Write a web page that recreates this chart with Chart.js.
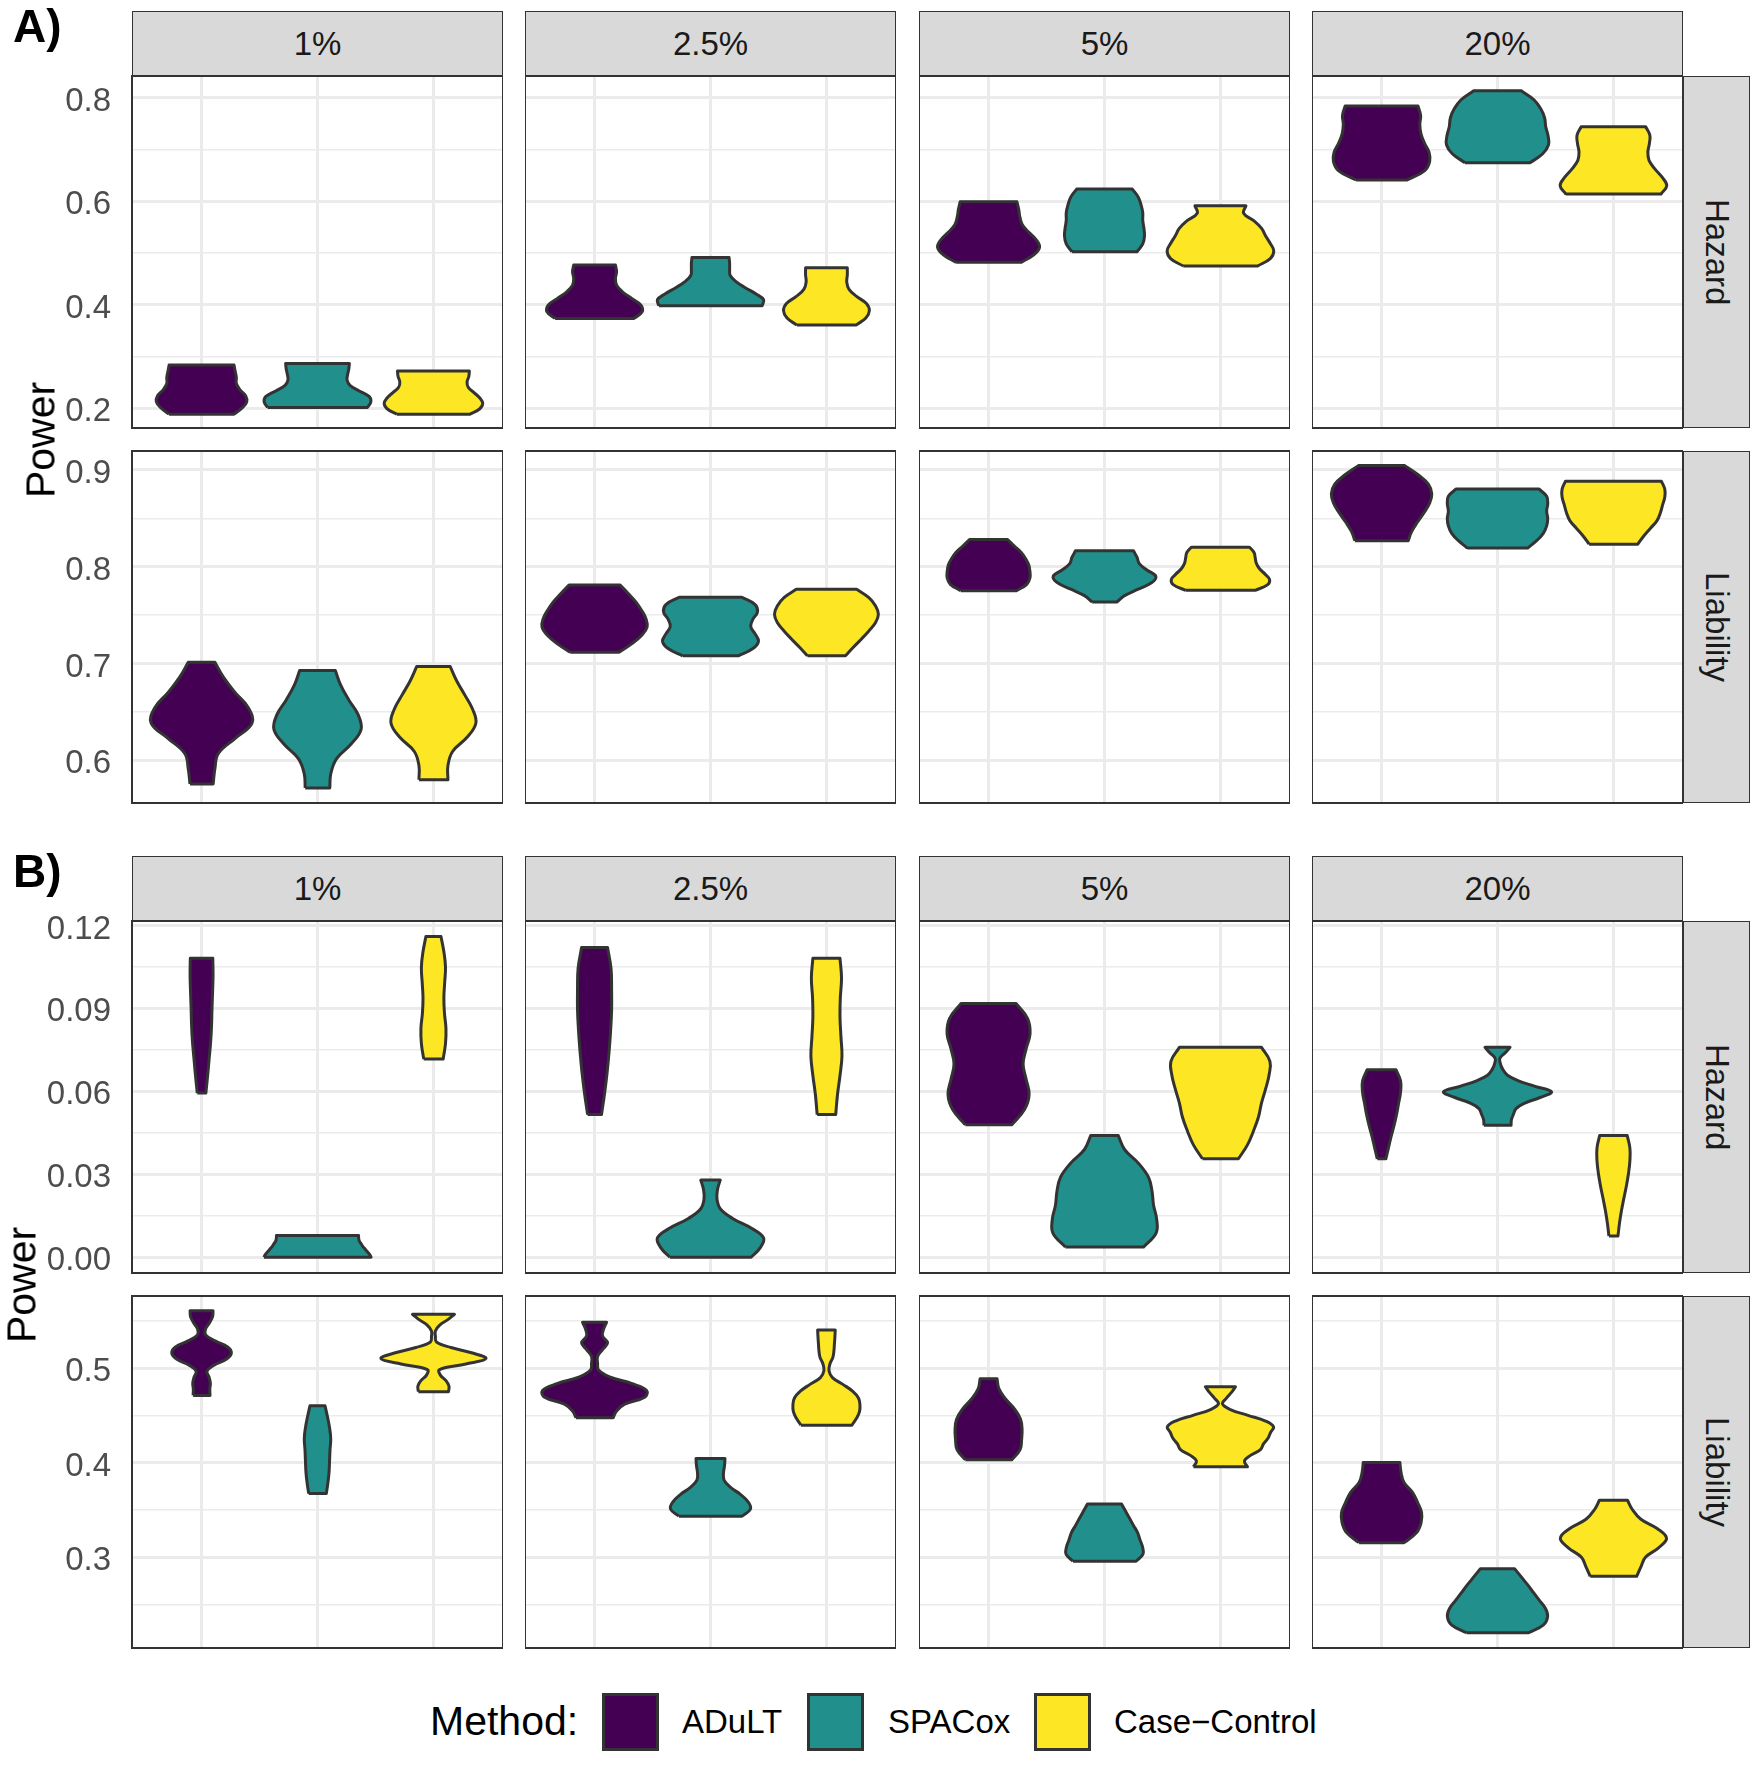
<!DOCTYPE html>
<html>
<head>
<meta charset="utf-8">
<script src="https://cdn.jsdelivr.net/npm/chart.js@4.4.1/dist/chart.umd.min.js"></script>
<style>
  body { margin: 0; background: #fff; font-family: "Liberation Sans", Arial, Helvetica, sans-serif; }
  #fig { position: relative; width: 1750px; height: 1773px; overflow: hidden; background: #fff; }
  .abs { position: absolute; }
  .strip { position: absolute; box-sizing: border-box; background: #d9d9d9; border: 1.4px solid #333; color: #1a1a1a;
           font-size: 33px; display: flex; align-items: center; justify-content: center; }
  .strip.side span { writing-mode: vertical-rl; }
  .tag { position: absolute; font-weight: bold; font-size: 46px; line-height: 46px; color: #000; }
  .ytitle { position: absolute; font-size: 41px; line-height: 41px; color: #000; width: 200px; text-align: center;
            transform: translate(-50%, -50%) rotate(-90deg); }
  .key { position: absolute; box-sizing: border-box; border: 3px solid #333; width: 57px; height: 58px; }
  .ltxt { position: absolute; font-size: 33px; line-height: 33px; color: #000; white-space: nowrap; }
</style>
</head>
<body>
<div id="fig"></div>
<script>
// categories
var methods = ['ADuLT', 'SPACox', 'Case\u2212Control'];
var methodColors = ['#440154', '#21908C', '#FDE725'];
var prevalences = ['1%', '2.5%', '5%', '20%'];
var models = ['Hazard', 'Liability'];

// y axes, one per facet row
var yRangeAHazard = [0.162, 0.842];
var yMajorAHazard = [0.2, 0.4, 0.6, 0.8];
var yLabelAHazard = ['0.2', '0.4', '0.6', '0.8'];
var yMinorAHazard = [0.3, 0.5, 0.7];

var yRangeALiability = [0.556, 0.9196];
var yMajorALiability = [0.6, 0.7, 0.8, 0.9];
var yLabelALiability = ['0.6', '0.7', '0.8', '0.9'];
var yMinorALiability = [0.65, 0.75, 0.85];

var yRangeBHazard = [-0.0057, 0.1216];
var yMajorBHazard = [0, 0.03, 0.06, 0.09, 0.12];
var yLabelBHazard = ['0.00', '0.03', '0.06', '0.09', '0.12'];
var yMinorBHazard = [0.015, 0.045, 0.075, 0.105];

var yRangeBLiability = [0.204, 0.5766];
var yMajorBLiability = [0.3, 0.4, 0.5];
var yLabelBLiability = ['0.3', '0.4', '0.5'];
var yMinorBLiability = [0.25, 0.35, 0.45, 0.55];

// violins: [min power, max power, half widths from bottom to top (evenly spaced)]
// one line per prevalence, methods in order ADuLT, SPACox, Case-Control
var violinsAHazard = [
  [[0.1888, 0.2835, [0.28, 0.35, 0.39, 0.38, 0.33, 0.30, 0.30, 0.29, 0.28]],
   [0.2017, 0.2867, [0.43, 0.46, 0.445, 0.36, 0.28, 0.255, 0.26, 0.27, 0.275]],
   [0.1888, 0.2719, [0.315, 0.40, 0.425, 0.40, 0.35, 0.30, 0.29, 0.305, 0.31]]],
  [[0.3737, 0.4767, [0.34, 0.41, 0.40, 0.32, 0.24, 0.19, 0.18, 0.19, 0.18]],
   [0.398, 0.4916, [0.445, 0.458, 0.39, 0.30, 0.22, 0.17, 0.165, 0.165, 0.16]],
   [0.3608, 0.4715, [0.255, 0.34, 0.37, 0.345, 0.26, 0.195, 0.175, 0.18, 0.18]]],
  [[0.482, 0.599, [0.28, 0.39, 0.44, 0.41, 0.345, 0.29, 0.27, 0.26, 0.245]],
   [0.5024, 0.6236, [0.28, 0.33, 0.345, 0.34, 0.33, 0.33, 0.315, 0.29, 0.24]],
   [0.4748, 0.5913, [0.32, 0.43, 0.46, 0.43, 0.39, 0.355, 0.29, 0.20, 0.22]]],
  [[0.641, 0.784, [0.22, 0.37, 0.415, 0.41, 0.37, 0.34, 0.33, 0.337, 0.314]],
   [0.6744, 0.8135, [0.28, 0.39, 0.44, 0.436, 0.416, 0.406, 0.373, 0.314, 0.205]],
   [0.6139, 0.744, [0.41, 0.46, 0.42, 0.357, 0.307, 0.297, 0.31, 0.314, 0.278]]]
];

var violinsALiability = [
  [[0.5757, 0.7014, [0.10, 0.115, 0.145, 0.29, 0.435, 0.405, 0.29, 0.19, 0.115]],
   [0.5715, 0.6928, [0.106, 0.115, 0.165, 0.29, 0.376, 0.35, 0.27, 0.2, 0.154]],
   [0.58, 0.6969, [0.125, 0.125, 0.165, 0.29, 0.366, 0.337, 0.27, 0.2, 0.145]]],
  [[0.7117, 0.7811, [0.21, 0.32, 0.405, 0.453, 0.443, 0.405, 0.356, 0.29, 0.22]],
   [0.708, 0.7685, [0.24, 0.366, 0.414, 0.385, 0.347, 0.366, 0.405, 0.385, 0.27]],
   [0.708, 0.7767, [0.164, 0.23, 0.3, 0.366, 0.424, 0.448, 0.424, 0.366, 0.26]]],
  [[0.7753, 0.8282, [0.24, 0.33, 0.357, 0.357, 0.347, 0.32, 0.28, 0.22, 0.164]],
   [0.7636, 0.8165, [0.106, 0.173, 0.29, 0.405, 0.443, 0.366, 0.3, 0.28, 0.25]],
   [0.7757, 0.8203, [0.3, 0.405, 0.424, 0.385, 0.337, 0.31, 0.3, 0.29, 0.25]]],
  [[0.8268, 0.9045, [0.23, 0.26, 0.31, 0.366, 0.414, 0.433, 0.405, 0.318, 0.2]],
   [0.8193, 0.8804, [0.26, 0.337, 0.395, 0.424, 0.433, 0.424, 0.433, 0.424, 0.356]],
   [0.8234, 0.8883, [0.21, 0.26, 0.318, 0.376, 0.405, 0.424, 0.443, 0.443, 0.414]]]
];

var violinsBHazard = [
  [[0.0594, 0.1081, [0.037, 0.052, 0.065, 0.078, 0.086, 0.09, 0.095, 0.099, 0.097]],
   [0.0, 0.0079, [0.462, 0.45, 0.43, 0.41, 0.39, 0.375, 0.36, 0.355, 0.354]],
   [0.0717, 0.116, [0.084, 0.104, 0.108, 0.095, 0.09, 0.097, 0.104, 0.09, 0.065]]],
  [[0.0516, 0.112, [0.06, 0.086, 0.108, 0.125, 0.138, 0.147, 0.147, 0.142, 0.112]],
   [0.0, 0.0279, [0.35, 0.43, 0.458, 0.354, 0.194, 0.086, 0.056, 0.06, 0.084]],
   [0.0516, 0.1081, [0.08, 0.095, 0.117, 0.134, 0.125, 0.117, 0.12, 0.13, 0.117]]],
  [[0.0479, 0.0918, [0.2, 0.31, 0.35, 0.324, 0.298, 0.324, 0.358, 0.337, 0.237]],
   [0.0037, 0.044, [0.337, 0.445, 0.45, 0.423, 0.41, 0.38, 0.294, 0.173, 0.119]],
   [0.0356, 0.0759, [0.155, 0.233, 0.285, 0.328, 0.354, 0.389, 0.419, 0.427, 0.354]]],
  [[0.0356, 0.0678, [0.037, 0.06, 0.082, 0.108, 0.13, 0.147, 0.164, 0.164, 0.125]],
   [0.0477, 0.0759, [0.117, 0.12, 0.138, 0.16, 0.237, 0.367, 0.466, 0.324, 0.181, 0.086, 0.047, 0.026, 0.02, 0.065, 0.108]],
   [0.0077, 0.044, [0.039, 0.052, 0.069, 0.09, 0.112, 0.13, 0.142, 0.142, 0.119]]]
];

var violinsBLiability = [
  [[0.4714, 0.5611, [0.073, 0.071, 0.076, 0.065, 0.047, 0.108, 0.216, 0.257, 0.225, 0.117, 0.035, 0.035, 0.069, 0.095, 0.099]],
   [0.3675, 0.4604, [0.076, 0.09, 0.1, 0.104, 0.108, 0.114, 0.104, 0.086, 0.065]],
   [0.4753, 0.5572, [0.13, 0.134, 0.108, 0.06, 0.052, 0.28, 0.453, 0.337, 0.151, 0.026, 0.017, 0.017, 0.052, 0.121, 0.181]]],
  [[0.4477, 0.5488, [0.16, 0.19, 0.26, 0.432, 0.449, 0.324, 0.13, 0.035, 0.026, 0.026, 0.069, 0.112, 0.069, 0.078, 0.104]],
   [0.3435, 0.4046, [0.272, 0.345, 0.324, 0.26, 0.173, 0.117, 0.112, 0.121, 0.125]],
   [0.4399, 0.5406, [0.22, 0.259, 0.285, 0.289, 0.276, 0.225, 0.142, 0.052, 0.022, 0.03, 0.056, 0.065, 0.069, 0.073, 0.076]]],
  [[0.4032, 0.489, [0.2, 0.272, 0.285, 0.289, 0.276, 0.225, 0.147, 0.09, 0.073]],
   [0.2958, 0.3565, [0.272, 0.332, 0.328, 0.306, 0.285, 0.25, 0.216, 0.181, 0.147]],
   [0.3958, 0.4806, [0.233, 0.207, 0.259, 0.345, 0.371, 0.41, 0.432, 0.458, 0.389, 0.237, 0.086, 0.017, 0.052, 0.095, 0.13]]],
  [[0.3155, 0.4004, [0.194, 0.302, 0.341, 0.345, 0.311, 0.268, 0.194, 0.168, 0.158]],
   [0.2201, 0.288, [0.268, 0.397, 0.432, 0.415, 0.363, 0.311, 0.259, 0.203, 0.147]],
   [0.2799, 0.3604, [0.2, 0.237, 0.276, 0.389, 0.458, 0.38, 0.237, 0.164, 0.121]]]
];

// ---- layout ----
var FONT = '"Liberation Sans", Arial, Helvetica, sans-serif';
var panelLeft = [132, 525, 919, 1312];
var panelW = 371, panelH = 352;
var rowTop = [76, 451, 921, 1296];
var stripTop = [11, 856];
var padV = 26, axisW = 110;

var rows = [
  {range: yRangeAHazard, major: yMajorAHazard, labels: yLabelAHazard, minor: yMinorAHazard, violins: violinsAHazard, model: 0},
  {range: yRangeALiability, major: yMajorALiability, labels: yLabelALiability, minor: yMinorALiability, violins: violinsALiability, model: 1},
  {range: yRangeBHazard, major: yMajorBHazard, labels: yLabelBHazard, minor: yMinorBHazard, violins: violinsBHazard, model: 0},
  {range: yRangeBLiability, major: yMajorBLiability, labels: yLabelBLiability, minor: yMinorBLiability, violins: violinsBLiability, model: 1}
];

var fig = document.getElementById('fig');

function addDiv(cls, css, text) {
  var d = document.createElement('div');
  d.className = cls;
  d.style.cssText = css;
  if (text !== undefined) d.innerHTML = text;
  fig.appendChild(d);
  return d;
}

// outline of one violin as a closed path; corners doubled so the trimmed ends stay flat
function violinPoints(cx, lo, hi, w) {
  var n = w.length;
  var left = [], right = [];
  for (var i = 0; i < n; i++) {
    var y = lo + (hi - lo) * i / (n - 1);
    left.push({x: cx - w[i], y: y});
    right.push({x: cx + w[i], y: y});
  }
  right.reverse();
  var pts = [left[0]];
  for (var i = 1; i < n - 1; i++) pts.push(left[i]);
  pts.push(left[n - 1], left[n - 1], right[0], right[0]);
  for (var i = 1; i < n - 1; i++) pts.push(right[i]);
  pts.push(right[n - 1], right[n - 1], left[0]);
  return pts;
}

var panelBorder = {
  id: 'panelBorder',
  afterDraw: function(chart) {
    var a = chart.chartArea, g = chart.ctx;
    g.save();
    g.strokeStyle = '#333333';
    g.lineWidth = 2;
    g.strokeRect(a.left, a.top, a.right - a.left, a.bottom - a.top);
    g.restore();
  }
};

function makePanel(row, r, c) {
  var aw = c === 0 ? axisW : 0;
  var wrap = addDiv('abs', 'left:' + (panelLeft[c] - aw) + 'px;top:' + (rowTop[r] - padV) + 'px;');
  var canvas = document.createElement('canvas');
  canvas.width = panelW + aw;
  canvas.height = panelH + 2 * padV;
  canvas.style.width = canvas.width + 'px';
  canvas.style.height = canvas.height + 'px';
  wrap.appendChild(canvas);

  var datasets = row.violins[c].map(function(v, m) {
    return {
      label: methods[m],
      data: violinPoints(m + 1, v[0], v[1], v[2]),
      showLine: true,
      fill: 'shape',
      tension: 0.4,
      backgroundColor: methodColors[m],
      borderColor: '#333333',
      borderWidth: 3,
      borderJoinStyle: 'round',
      pointRadius: 0,
      pointHoverRadius: 0
    };
  });

  new Chart(canvas, {
    type: 'scatter',
    data: {datasets: datasets},
    options: {
      responsive: false,
      animation: false,
      events: [],
      layout: {padding: {top: padV, bottom: padV, left: 0, right: 0}},
      plugins: {legend: {display: false}, tooltip: {enabled: false}},
      scales: {
        x: {
          type: 'linear', min: 0.4, max: 3.6,
          afterBuildTicks: function(s) { s.ticks = [1, 2, 3].map(function(v) { return {value: v}; }); },
          afterFit: function(s) { s.height = 0; s.paddingLeft = 0; s.paddingRight = 0; },
          ticks: {display: false, autoSkip: false},
          grid: {color: '#ebebeb', lineWidth: 3, drawTicks: false},
          border: {display: false}
        },
        y: {
          type: 'linear', min: row.range[0], max: row.range[1],
          afterBuildTicks: function(s) {
            s.ticks = row.major.concat(row.minor).map(function(v) { return {value: v}; });
          },
          // labels may hang into the outer padding, the panel keeps its full height
          afterFit: function(s) { s.width = aw; s.paddingTop = 0; s.paddingBottom = 0; },
          ticks: {
            display: c === 0, autoSkip: false, padding: 21, labelOffset: 4, color: '#4d4d4d',
            font: {family: FONT, size: 33},
            callback: function(v) {
              var i = row.major.indexOf(v);
              return i >= 0 ? row.labels[i] : '';
            }
          },
          grid: {
            color: '#ebebeb', drawTicks: false,
            lineWidth: function(ctx) { return row.major.indexOf(ctx.tick.value) >= 0 ? 3 : 1.5; }
          },
          border: {display: false}
        }
      }
    },
    plugins: [panelBorder]
  });
}

// facet strips on top
stripTop.forEach(function(t) {
  prevalences.forEach(function(p, c) {
    addDiv('strip', 'left:' + panelLeft[c] + 'px;top:' + t + 'px;width:' + panelW + 'px;height:' + (rowTop[0] - stripTop[0] + 1) + 'px;', '<span>' + p + '</span>');
  });
});

rows.forEach(function(row, r) {
  prevalences.forEach(function(p, c) { makePanel(row, r, c); });
  // model strip on the right
  addDiv('strip side', 'left:1683px;top:' + rowTop[r] + 'px;width:67px;height:' + panelH + 'px;', '<span>' + models[row.model] + '</span>');
});

// part labels and y titles (B has wider tick labels, so its title sits further left)
addDiv('tag', 'left:13px;top:3px;', 'A)');
addDiv('tag', 'left:13px;top:848px;', 'B)');
addDiv('ytitle', 'left:41px;top:' + ((rowTop[0] + rowTop[1] + panelH) / 2) + 'px;', 'Power');
addDiv('ytitle', 'left:22px;top:' + ((rowTop[2] + rowTop[3] + panelH) / 2) + 'px;', 'Power');

// legend
var legY = 1722;
addDiv('ltxt', 'left:430px;top:' + (legY - 21) + 'px;font-size:41px;line-height:41px;', 'Method:');
var keyX = [602, 807, 1034];
var txtX = [682, 888, 1114];
methods.forEach(function(m, i) {
  addDiv('key', 'left:' + keyX[i] + 'px;top:1693px;background:' + methodColors[i] + ';');
  addDiv('ltxt', 'left:' + txtX[i] + 'px;top:' + (legY - 17) + 'px;', m);
});
</script>
</body>
</html>
